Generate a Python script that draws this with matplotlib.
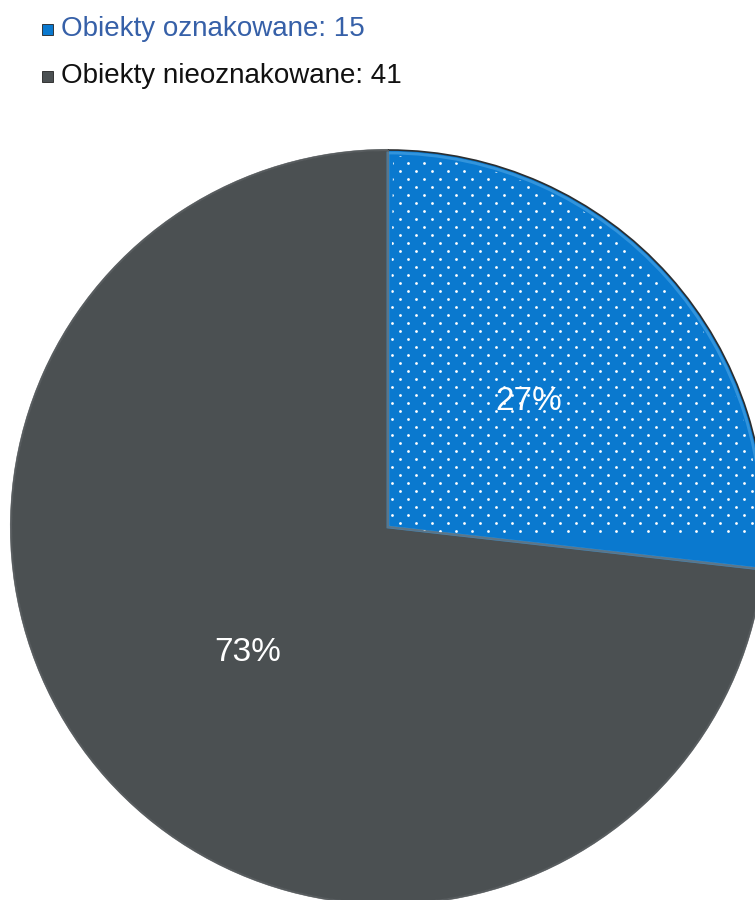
import numpy as np
import matplotlib.pyplot as plt
from matplotlib.patches import Rectangle, Wedge

plt.rcParams["font.family"] = ["Liberation Sans", "DejaVu Sans"]

# Dane wykresu
kategorie = ["Obiekty oznakowane", "Obiekty nieoznakowane"]
liczby = [15, 41]
kolory = ["#0a79cf", "#4b5052"]
kolory_legendy = ["#3660a8", "#111111"]

fig = plt.figure(figsize=(7.55, 9.0), dpi=100)
ax = fig.add_axes([0, 0, 1, 1])

srodek = (388, 373)
promien = 377

wedges, teksty, procenty = ax.pie(
    liczby,
    colors=kolory,
    startangle=90,
    counterclock=False,
    center=srodek,
    radius=promien,
    autopct="%1.0f%%",
    pctdistance=0.5,
    wedgeprops=dict(edgecolor="#2b2e30", linewidth=1.2),
    textprops=dict(color="white", fontsize=24),
)

# faza na krawedziach wycinkow
niebieski = wedges[0]
ax.add_patch(Wedge(srodek, promien - 3, niebieski.theta1, niebieski.theta2,
                   facecolor="none", edgecolor="#3d9be0", linewidth=2.0,
                   alpha=0.8))
ax.add_patch(Wedge(srodek, promien, wedges[1].theta1, wedges[1].theta2,
                   facecolor="none", edgecolor="#6b7073", linewidth=1.5,
                   alpha=0.7))

# wzor kropek na niebieskim wycinku (siatka przesunieta co drugi rzad)
ys = np.arange(srodek[1] - 4, 900, 8.0)
pts_x, pts_y = [], []
for j, y in enumerate(ys):
    x0 = srodek[0] + 4 + (8 if j % 2 else 0)
    xs = np.arange(x0, 760, 16.0)
    pts_x.extend(xs)
    pts_y.extend([y] * len(xs))
kropki = ax.scatter(pts_x, pts_y, s=4.0, c="white", linewidths=0, zorder=3)
klip = Wedge(srodek, promien - 6, niebieski.theta1 + 0.8, niebieski.theta2 - 0.8,
             transform=ax.transData)
kropki.set_clip_path(klip)

for t in procenty:
    t.set_zorder(5)

ax.set_xlim(0, 755)
ax.set_ylim(0, 900)
ax.set_aspect("equal")
ax.axis("off")

# legenda nad wykresem
for i, (kat, n) in enumerate(zip(kategorie, liczby)):
    y = 900 - 29 - i * 47
    ax.add_patch(Rectangle((42, y - 6), 11, 11, facecolor=kolory[i],
                           edgecolor="#222222", linewidth=0.6))
    ax.text(61, y, f"{kat}: {n}", color=kolory_legendy[i], fontsize=20,
            va="center", ha="left")

fig.savefig("out.png", dpi=100, facecolor="white")
